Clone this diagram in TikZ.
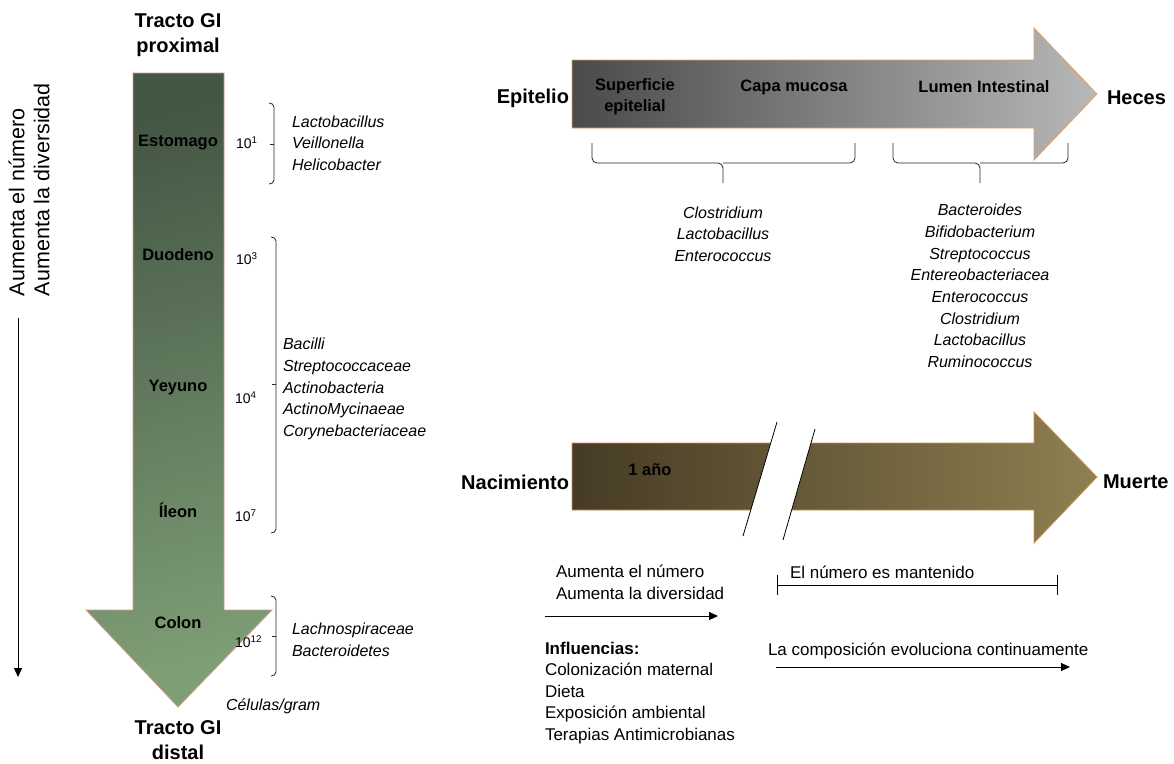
\documentclass[tikz,border=0pt]{standalone}
\usepackage{fontspec}
\setmainfont{Liberation Sans}
\usetikzlibrary{arrows.meta}
\definecolor{gutTop}{HTML}{445644}
\definecolor{gutBot}{HTML}{7E9E76}
\definecolor{gutEdge}{HTML}{D49A8A}
\definecolor{siteL}{HTML}{4A4A4A}
\definecolor{siteR}{HTML}{B8B8B8}
\definecolor{lifeL}{HTML}{463B25}
\definecolor{lifeR}{HTML}{8E8050}
\definecolor{orangeEdge}{HTML}{E3A060}
\begin{document}
\begin{tikzpicture}[x=1pt,y=-1pt,
  every node/.style={inner sep=0pt,outer sep=0pt},
  headlabel/.style={font=\fontsize{20}{25}\selectfont\bfseries,align=center},
  endlabel/.style={font=\fontsize{20}{24}\selectfont\bfseries},
  region/.style={font=\fontsize{16.5}{21}\selectfont\bfseries,align=center},
  count/.style={font=\fontsize{14}{16}\selectfont,anchor=west},
  taxa/.style={font=\fontsize{16}{21.7}\selectfont\itshape},
  plain/.style={font=\fontsize{17}{21.5}\selectfont,align=left},
  bracketline/.style={line width=0.8pt,black!85},
  pointer/.style={line width=0.9pt,black,-{Triangle[length=9pt,width=8pt]}}]
\useasboundingbox (0,0) rectangle (1174,763);

% ---- left: gastrointestinal tract, proximal to distal ----
\shade[top color=gutTop,bottom color=gutBot,shading angle=15,draw=gutEdge,line width=0.8pt]
  (133,73) -- (224,73) -- (224,610) -- (272,610) -- (178,707) -- (86,610) -- (133,610) -- cycle;

\node[headlabel] (prox) at (178,35) {Tracto GI\\proximal};
\node[headlabel] (dist) at (178,740) {Tracto GI\\distal};

\node[region] (est) at (178,143) {Estomago};
\node[region] (duo) at (178,255) {Duodeno};
\node[region] (yey) at (178,388) {Yeyuno};
\node[region] (ile) at (178,510) {Íleon};
\node[region] (col) at (178,623) {Colon};

\node[count] (c1) at (236,143) {10\textsuperscript{1}};
\node[count] (c3) at (236,259) {10\textsuperscript{3}};
\node[count] (c4) at (235,398) {10\textsuperscript{4}};
\node[count] (c7) at (235,516) {10\textsuperscript{7}};
\node[count] (c12) at (235,642) {10\textsuperscript{12}};
\node[taxa,anchor=west] (units) at (226,706) {Células/gram};

% brackets grouping the regions
\draw[bracketline] (269,103) to[out=0,in=90] (274,107) -- (274,180) to[out=-90,in=0] (269,184);
\draw[bracketline] (274,144) -- (270,144);
\draw[bracketline] (271,237) to[out=0,in=90] (276,241) -- (276,529) to[out=-90,in=0] (271,533);
\draw[bracketline] (276,384) -- (272,384);
\draw[bracketline] (271,596) to[out=0,in=90] (276,600) -- (276,672) to[out=-90,in=0] (271,676);
\draw[bracketline] (276,636) -- (272,636);

\node[taxa,anchor=west,align=left] (t1) at (292,143) {Lactobacillus\\Veillonella\\Helicobacter};
\node[taxa,anchor=west,align=left] (t2) at (283,389) {Bacilli\\Streptococcaceae\\Actinobacteria\\ActinoMycinaeae\\Corynebacteriaceae};
\node[taxa,anchor=west,align=left] (t3) at (292,640) {Lachnospiraceae\\Bacteroidetes};

% trend along the tract
\node[font=\fontsize{21.5}{25}\selectfont,rotate=90,anchor=west,align=left] (trend) at (29,296)
  {Aumenta el número\\Aumenta la diversidad};
\coordinate (trendA) at (18,318);
\coordinate (trendB) at (18,677);
\draw[pointer] (trendA) -- (trendB);

% ---- top right: epithelium to faeces ----
\shade[left color=siteL,right color=siteR,draw=orangeEdge,line width=0.8pt]
  (572,60) -- (1034,60) -- (1034,28) -- (1097,94) -- (1034,160) -- (1034,128) -- (572,128) -- cycle;
\node[endlabel,anchor=east] (epi) at (569,98) {Epitelio};
\node[endlabel,anchor=west] (hec) at (1107,98) {Heces};
\node[region] (sup) at (635,97) {Superficie\\epitelial};
\node[region] (muc) at (794,87) {Capa mucosa};
\node[region] (lum) at (984,87) {Lumen Intestinal};

\draw[bracketline,rounded corners=5pt] (592,143) |- (723,163) -- (723,183);
\draw[bracketline,rounded corners=5pt] (855,143) |- (723,163);
\draw[bracketline,rounded corners=5pt] (893,143) |- (980,163) -- (980,183);
\draw[bracketline,rounded corners=5pt] (1068,143) |- (980,163);

\node[taxa,align=center] (t4) at (723,234) {Clostridium\\Lactobacillus\\Enterococcus};
\node[taxa,align=center] (t5) at (980,286) {Bacteroides\\Bifidobacterium\\Streptococcus\\Entereobacteriacea\\Enterococcus\\Clostridium\\Lactobacillus\\Ruminococcus};

% ---- bottom right: birth to death ----
\shade[left color=lifeL,right color=lifeR,draw=orangeEdge!90!black,line width=0.8pt]
  (572,443) -- (1034,443) -- (1034,412) -- (1097,477) -- (1034,543) -- (1034,510) -- (572,510) -- cycle;
% axis break
\fill[white] (777,422) -- (815,429) -- (783,540) -- (743,536) -- cycle;
\draw[line width=0.8pt] (777,422) -- (743,536);
\draw[line width=0.8pt] (815,429) -- (783,540);

\node[endlabel,anchor=east] (nac) at (569,482) {Nacimiento};
\node[endlabel,anchor=west] (mue) at (1103,482) {Muerte};
\node[region] (year) at (650,470) {1 año};

\node[plain,anchor=west] (grow) at (556,582.5) {Aumenta el número\\Aumenta la diversidad};
\coordinate (growA) at (545,616);
\coordinate (growB) at (718,616);
\draw[pointer] (growA) -- (growB);

\node[plain,anchor=west] (keep) at (790,572) {El número es mantenido};
\coordinate (keepA) at (777,585);
\coordinate (keepB) at (1058,585);
\draw[line width=0.8pt,{Bar[width=20pt]}-{Bar[width=20pt]}] (keepA) -- (keepB);

\node[plain,anchor=west] (infl) at (545,693)
  {\textbf{Influencias:}\\Colonización maternal\\Dieta\\Exposición ambiental\\Terapias Antimicrobianas};

\node[plain,anchor=west] (evo) at (768,651) {La composición evoluciona continuamente};
\coordinate (evoA) at (776,667);
\coordinate (evoB) at (1070,667);
\draw[pointer] (evoA) -- (evoB);
\end{tikzpicture}
\end{document}
